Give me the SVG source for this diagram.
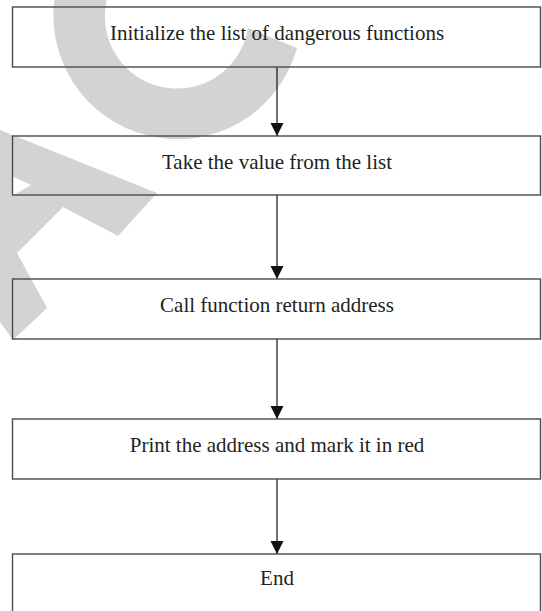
<svg xmlns="http://www.w3.org/2000/svg" width="542" height="611" viewBox="0 0 542 611">
  <style>
    .box { fill: none; stroke: #4a4a4a; stroke-width: 1.4; }
    .lbl { font-family: "Liberation Serif", "Times New Roman", serif; font-size: 21px; fill: #231f20; text-anchor: middle; }
    .edge { stroke: #111; stroke-width: 1.2; fill: none; marker-end: url(#ah); }
    .wm { fill: #d3d3d3; }
  </style>
  <defs>
    <marker id="ah" markerUnits="userSpaceOnUse" markerWidth="14" markerHeight="14" refX="13" refY="6.5" orient="auto">
      <path d="M0,0 L13,6.5 L0,13 Z" fill="#111"/>
    </marker>
  </defs>
  <rect x="0" y="0" width="542" height="611" fill="#fff"/>
  <g id="watermark">
    <path class="wm" d="M56,-10 A124,124 0 0 0 297,48 L248,28 A72,72 0 1 1 110,-10 Z"/>
    <path class="wm" d="M0,130 L157,193 L118,236 L63,207 L17,253 L47,308 L13,340 L0,322 Z"/>
    <path fill="#fff" d="M31,185 L12,176 L12,196 Z"/>
  </g>
  <g id="connectors">
    <line class="edge" x1="277" y1="67" x2="277" y2="136"/>
    <line class="edge" x1="277" y1="195" x2="277" y2="279"/>
    <line class="edge" x1="277" y1="339" x2="277" y2="419"/>
    <line class="edge" x1="277" y1="479" x2="277" y2="554"/>
  </g>
  <g id="n1">
    <rect class="box" x="12.5" y="7" width="528" height="60"/>
    <text class="lbl" x="277" y="39.5">Initialize the list of dangerous functions</text>
  </g>
  <g id="n2">
    <rect class="box" x="12.5" y="136" width="528" height="59"/>
    <text class="lbl" x="277" y="168.5">Take the value from the list</text>
  </g>
  <g id="n3">
    <rect class="box" x="12.5" y="279" width="528" height="60"/>
    <text class="lbl" x="277" y="311.7">Call function return address</text>
  </g>
  <g id="n4">
    <rect class="box" x="12.5" y="419" width="528" height="60"/>
    <text class="lbl" x="277" y="451.7">Print the address and mark it in red</text>
  </g>
  <g id="n5">
    <rect class="box" x="12.5" y="554" width="528" height="60"/>
    <text class="lbl" x="277" y="585">End</text>
  </g>
</svg>
